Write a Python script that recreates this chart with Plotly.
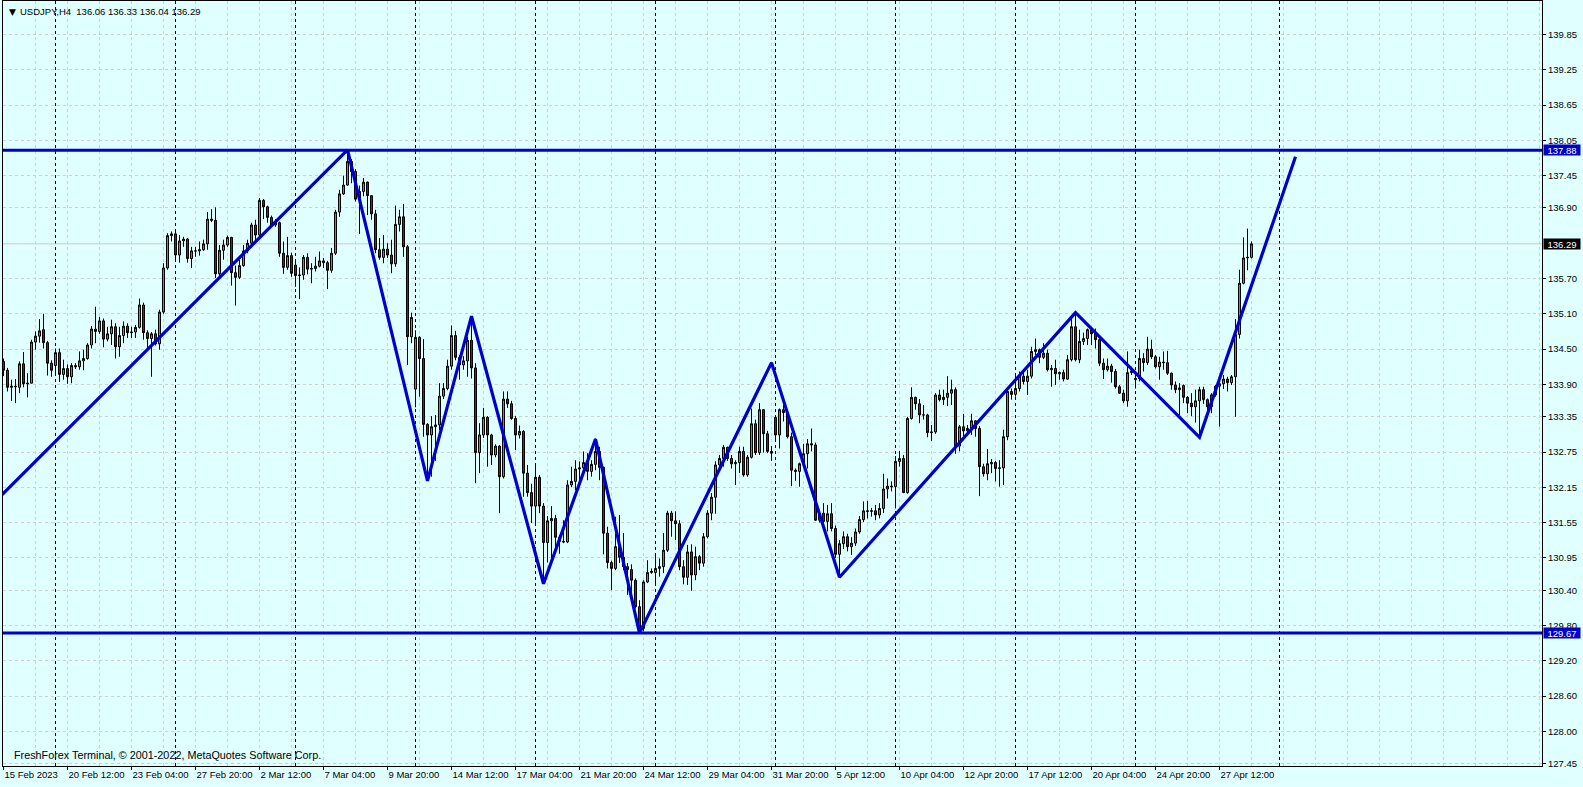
import plotly.graph_objects as go

# ---------------- data ----------------
bar_index = list(range(1, 314))

open_ = [
134.29,134.14,133.85,133.87,133.85,134.25,133.91,133.92,134.62,134.72,
134.83,134.61,134.26,134.22,134.44,134.07,134.17,134.03,134.22,134.20,
134.30,134.34,134.57,134.84,134.80,134.98,134.67,134.76,134.88,134.54,
134.73,134.89,134.78,134.79,134.87,135.25,134.78,134.68,134.76,134.59,
135.13,135.88,136.43,136.46,136.10,136.34,136.37,136.04,136.17,136.17,
136.19,136.29,136.71,136.69,135.78,136.18,136.27,136.40,135.80,135.72,
135.92,136.17,136.30,136.61,136.44,137.03,136.92,136.74,136.61,136.65,
136.13,135.89,136.09,135.93,135.75,135.76,136.06,135.86,135.87,135.91,
136.00,135.97,135.84,136.13,136.83,137.14,137.29,137.69,137.52,137.05,
137.18,137.34,137.11,136.80,136.19,136.06,136.20,136.10,135.95,136.62,
136.75,136.24,134.71,133.82,134.70,134.34,133.22,133.04,133.18,133.21,
133.70,133.83,134.21,134.73,134.36,134.23,134.30,134.65,134.18,132.74,
133.04,133.34,133.04,132.70,132.85,132.33,133.65,133.57,133.32,133.04,
133.10,132.39,132.06,131.83,132.32,131.83,131.21,131.58,131.62,131.30,
131.23,131.22,132.19,132.25,132.46,132.48,132.57,132.42,132.54,132.76,
132.49,131.37,130.87,130.77,131.14,130.96,130.80,130.75,130.57,130.12,
129.75,130.54,130.70,130.70,130.77,130.80,131.08,131.71,131.58,131.53,
130.80,130.62,131.05,130.66,130.97,130.86,131.31,131.71,131.98,132.53,
132.64,132.83,132.64,132.55,132.57,132.76,132.36,132.66,133.23,132.74,
133.47,133.06,132.76,133.34,133.04,133.47,133.42,133.01,132.44,132.42,
132.55,132.72,132.89,132.87,131.59,131.71,131.57,131.70,131.45,131.01,
131.19,131.31,131.14,131.20,131.39,131.60,131.75,131.74,131.75,131.68,
131.79,132.12,132.17,132.16,132.59,132.64,132.06,133.32,133.68,133.57,
133.38,133.38,133.08,133.09,133.72,133.64,133.68,133.75,133.81,132.85,
133.18,133.11,133.15,133.28,133.15,132.50,132.38,132.55,132.57,132.47,
132.48,133.01,133.78,133.73,133.83,134.04,133.95,134.04,134.46,134.49,
134.36,134.43,134.15,134.17,134.08,134.10,133.99,134.32,134.88,134.32,
134.63,134.68,134.83,134.76,134.66,134.26,134.15,134.21,134.12,133.86,
133.75,133.62,134.10,133.98,134.00,134.34,134.27,134.50,134.37,134.20,
134.28,134.27,134.09,133.89,133.81,133.88,133.68,133.58,133.52,133.62,
133.81,133.64,133.52,133.72,133.87,133.91,133.99,133.93,134.03,134.75,
135.62,136.05,136.06]

high = [
134.34,134.18,133.98,133.99,134.29,134.45,134.09,134.66,134.80,135.01,
135.10,134.64,134.31,134.51,134.51,134.32,134.24,134.26,134.26,134.46,
134.49,134.60,134.89,135.22,135.05,135.02,134.88,135.00,134.94,134.88,
134.97,134.94,134.88,134.91,135.36,135.29,134.82,134.79,134.83,135.17,
135.96,136.47,136.50,136.53,136.44,136.41,136.39,136.24,136.24,136.33,
136.36,136.83,136.88,136.91,136.27,136.36,136.43,136.41,135.92,136.02,
136.27,136.36,136.65,136.70,137.07,137.05,136.94,136.77,136.71,136.67,
136.33,136.41,136.14,135.99,135.89,136.10,136.13,135.96,136.07,136.16,
136.05,136.00,136.22,136.87,137.21,137.45,137.89,137.73,137.56,137.28,
137.41,137.35,137.12,136.87,136.39,136.44,136.30,136.36,136.94,136.87,
136.97,136.27,135.12,134.82,134.72,134.67,133.24,133.36,133.38,133.92,
133.92,134.32,134.90,134.81,134.40,134.38,134.71,135.06,134.26,133.24,
133.50,133.36,133.06,132.88,132.87,133.78,133.78,133.62,133.36,133.20,
133.12,132.53,132.21,132.53,132.36,131.88,131.66,131.83,131.68,131.34,
131.59,132.27,132.50,132.61,132.59,132.76,132.73,132.61,132.98,132.84,
132.50,131.48,130.90,131.65,131.68,131.37,130.86,130.84,130.60,130.23,
130.57,130.91,130.77,131.03,130.94,131.37,131.75,131.75,131.74,131.59,
130.91,131.17,131.18,131.14,131.00,131.37,131.76,132.05,132.59,132.70,
132.87,132.84,132.70,132.61,132.84,132.84,132.70,133.49,133.30,133.58,
133.48,133.11,132.85,133.38,133.49,133.55,133.45,133.08,132.47,132.57,
132.89,132.97,133.15,132.91,131.75,131.88,131.85,131.88,131.50,131.25,
131.40,131.36,131.30,131.45,131.66,131.91,131.92,131.80,131.85,131.88,
132.38,132.30,132.25,132.68,132.77,132.70,133.35,133.85,133.69,133.65,
133.55,133.40,133.21,133.75,133.81,133.81,134.04,133.98,133.85,133.21,
133.40,133.21,133.40,133.29,133.19,132.55,132.80,132.63,132.60,132.61,
133.13,133.85,133.83,134.06,134.12,134.10,134.15,134.54,134.68,134.51,
134.60,134.49,134.23,134.32,134.12,134.15,134.40,135.02,135.11,134.83,
134.78,134.85,134.87,134.85,134.71,134.34,134.34,134.25,134.16,133.89,
133.81,134.46,134.20,134.12,134.49,134.43,134.71,134.66,134.40,134.37,
134.46,134.47,134.10,133.95,133.92,133.90,133.70,133.75,133.81,133.86,
133.86,133.66,133.75,133.89,134.03,134.06,134.03,134.06,135.01,135.85,
136.40,136.55,136.33]

low = [
134.04,133.78,133.62,133.58,133.75,133.85,133.68,133.92,134.49,134.61,
134.51,134.05,134.03,134.06,133.94,133.98,133.91,133.92,134.16,134.15,
134.14,134.32,134.51,134.60,134.76,134.53,134.63,134.57,134.34,134.37,
134.60,134.69,134.69,134.69,134.85,134.66,134.51,134.03,134.56,134.49,
135.10,135.85,136.33,135.99,135.97,136.24,135.97,135.88,136.07,136.09,
136.17,136.19,136.66,135.71,135.73,136.02,136.24,135.58,135.24,135.69,
135.90,136.13,136.22,136.30,136.41,136.71,136.65,136.58,136.58,136.07,
135.78,135.85,135.73,135.56,135.35,135.68,135.77,135.62,135.82,135.89,
135.88,135.52,135.80,136.10,136.75,137.12,137.28,137.32,137.01,136.46,
137.10,136.78,136.70,136.13,136.02,135.96,136.05,135.79,135.90,136.50,
136.07,134.23,134.60,133.51,133.69,133.01,132.27,132.33,132.60,133.12,
133.65,133.80,134.15,134.31,133.98,134.15,134.03,134.00,132.22,132.39,
132.99,132.50,132.53,132.66,131.71,132.30,133.50,133.30,132.78,132.98,
131.99,131.99,131.54,131.51,131.71,130.52,130.87,130.94,131.03,131.02,
131.20,131.20,132.15,132.10,132.27,132.39,132.27,132.33,132.44,132.27,
131.01,130.77,130.40,130.74,130.86,130.74,130.32,130.29,130.09,129.67,
129.70,130.52,130.68,130.52,130.63,130.69,131.05,131.31,131.25,130.74,
130.50,130.49,130.39,130.57,130.74,130.80,131.28,131.59,131.70,132.44,
132.50,132.60,132.47,132.19,132.39,132.33,132.33,132.64,132.70,132.70,
132.74,132.73,132.60,132.93,132.81,133.27,132.98,132.17,132.26,132.16,
132.49,132.47,132.76,131.58,131.55,131.48,131.40,131.40,130.95,130.61,
131.10,131.06,131.00,131.15,131.36,131.56,131.62,131.65,131.59,131.62,
131.71,131.96,132.08,131.79,132.50,132.05,132.04,133.30,133.47,133.24,
133.30,133.00,132.94,133.06,133.61,133.55,133.53,133.55,132.72,132.76,
133.01,133.04,133.04,133.01,132.00,132.33,132.27,132.39,132.25,132.16,
132.19,132.95,133.64,133.69,133.78,133.90,133.72,134.00,134.40,134.26,
134.33,134.12,133.86,133.89,133.98,133.95,133.98,134.29,134.29,134.26,
134.57,134.57,134.57,134.51,134.21,133.99,134.12,133.93,133.83,133.74,
133.58,133.52,134.06,133.83,133.95,134.12,134.23,134.33,134.17,133.98,
134.15,134.06,133.81,133.75,133.38,133.58,133.41,133.36,133.25,133.01,
133.57,133.44,133.41,133.69,133.18,133.82,133.78,133.89,133.35,134.68,
135.60,135.84,136.04]

close = [
134.14,133.85,133.87,133.86,134.25,133.91,133.92,134.62,134.72,134.81,
134.61,134.26,134.14,134.44,134.07,134.17,134.03,134.22,134.20,134.30,
134.34,134.57,134.84,134.80,134.98,134.67,134.76,134.88,134.54,134.73,
134.89,134.78,134.79,134.87,135.25,134.78,134.68,134.76,134.59,135.13,
135.88,136.43,136.46,136.10,136.34,136.37,136.04,136.17,136.17,136.19,
136.29,136.71,136.69,135.78,136.18,136.27,136.40,135.80,135.72,135.92,
136.17,136.30,136.61,136.44,137.03,136.92,136.74,136.61,136.65,136.13,
135.89,136.09,135.79,135.75,135.76,136.06,135.86,135.87,135.91,136.00,
135.97,135.84,136.13,136.83,137.14,137.29,137.69,137.52,137.05,137.18,
137.34,137.11,136.80,136.19,136.06,136.20,136.10,135.95,136.62,136.75,
136.24,134.71,135.04,134.70,134.34,133.22,133.04,133.18,133.21,133.70,
133.83,134.21,134.73,134.36,134.23,134.30,134.65,134.18,132.74,133.04,
133.34,133.04,132.70,132.85,132.33,133.65,133.57,133.32,133.04,133.10,
132.39,132.06,131.83,132.32,131.83,131.21,131.58,131.62,131.30,131.23,
131.22,132.19,132.25,132.46,132.48,132.57,132.42,132.54,132.76,132.49,
131.37,130.87,130.77,131.14,130.96,130.80,130.75,130.57,130.12,129.75,
130.54,130.70,130.72,130.77,130.80,131.08,131.71,131.58,131.53,130.80,
130.62,131.05,130.66,130.97,130.86,131.31,131.71,131.98,132.53,132.64,
132.83,132.64,132.55,132.57,132.76,132.36,132.66,133.23,132.74,133.47,
133.06,132.76,132.73,133.04,133.47,133.42,133.01,132.44,132.42,132.55,
132.72,132.89,132.87,131.59,131.71,131.57,131.70,131.45,131.01,131.19,
131.31,131.14,131.20,131.39,131.60,131.75,131.74,131.75,131.68,131.79,
132.12,132.17,132.16,132.59,132.64,132.06,133.32,133.68,133.57,133.38,
133.38,133.08,133.09,133.72,133.64,133.68,133.75,133.81,132.85,133.18,
133.11,133.15,133.28,133.15,132.50,132.38,132.55,132.57,132.47,132.48,
133.01,133.78,133.73,133.83,134.04,133.95,134.04,134.46,134.49,134.36,
134.43,134.15,134.17,134.08,134.10,133.99,134.32,134.88,134.32,134.63,
134.68,134.83,134.76,134.66,134.26,134.15,134.21,134.12,133.86,133.75,
133.62,134.10,134.13,134.00,134.34,134.27,134.50,134.37,134.20,134.28,
134.27,134.09,133.89,133.81,133.84,133.68,133.58,133.52,133.62,133.81,
133.64,133.52,133.72,133.87,133.91,133.99,133.93,134.03,134.75,135.62,
136.05,136.06,136.29]

# zigzag indicator vertices (bar index, price)
zigzag_bars = [0, 87, 107, 118, 136, 149, 160, 193, 210, 269, 300, 324]
zigzag_prices = [131.98, 137.89, 132.26, 135.06, 130.51, 132.97, 129.67,
                 134.27, 130.62, 135.12, 133.00, 137.77]

resistance_level = 137.88
support_level = 129.67
last_price = 136.29

price_ticks = [139.85, 139.25, 138.65, 138.05, 137.45, 136.90, 135.70, 135.10,
               134.50, 133.90, 133.35, 132.75, 132.15, 131.55, 130.95, 130.40,
               129.80, 129.20, 128.60, 128.00, 127.45]

date_tick_bars = [1, 17, 33, 49, 65, 81, 97, 113, 129, 145, 161, 177, 193,
                  209, 225, 241, 257, 273, 289, 305]
date_tick_labels = ["15 Feb 2023", "20 Feb 12:00", "23 Feb 04:00", "27 Feb 20:00",
                    "2 Mar 12:00", "7 Mar 04:00", "9 Mar 20:00", "14 Mar 12:00",
                    "17 Mar 04:00", "21 Mar 20:00", "24 Mar 12:00", "29 Mar 04:00",
                    "31 Mar 20:00", "5 Apr 12:00", "10 Apr 04:00", "12 Apr 20:00",
                    "17 Apr 12:00", "20 Apr 04:00", "24 Apr 20:00", "27 Apr 12:00"]

# weekly period separators (bar index of Monday 00:00)
separator_bars = [14, 44, 74, 104, 134, 164, 194, 224, 254, 284, 320]

title_text = "USDJPY,H4\u00a0\u00a0136.06 136.33 136.04 136.29"
footer_text = "FreshForex Terminal, © 2001-2022, MetaQuotes Software Corp."

# ---------------- styles ----------------
BG = "#E0FFFF"
GRID = "#D4CECE"
BLUE = "#0000CD"
FONT = "Liberation Sans, Arial, sans-serif"

fig = go.Figure()

fig.add_trace(go.Candlestick(
    x=bar_index, open=open_, high=high, low=low, close=close,
    increasing=dict(line=dict(color="black", width=1), fillcolor="#3EBE3E"),
    decreasing=dict(line=dict(color="black", width=1), fillcolor="#D40000"),
    whiskerwidth=0, showlegend=False, hoverinfo="skip",
))

fig.add_trace(go.Scatter(
    x=zigzag_bars, y=zigzag_prices, mode="lines",
    line=dict(color=BLUE, width=3.2), showlegend=False, hoverinfo="skip",
))

shapes = []
for b in separator_bars:
    shapes.append(dict(type="line", xref="x", yref="paper", x0=b, x1=b, y0=0, y1=1,
                       line=dict(color="black", width=1, dash="3px,3px"), layer="between"))
# bid line
shapes.append(dict(type="line", xref="paper", yref="y", x0=0, x1=1,
                   y0=last_price, y1=last_price,
                   line=dict(color="#D9C4C4", width=1), layer="between"))
for lvl in (resistance_level, support_level):
    shapes.append(dict(type="line", xref="paper", yref="y", x0=0, x1=1, y0=lvl, y1=lvl,
                       line=dict(color=BLUE, width=3), layer="above"))

annotations = [
    dict(xref="paper", yref="paper", x=0, y=1, xshift=4, yshift=-4,
         xanchor="left", yanchor="top", text="▼", showarrow=False,
         font=dict(family="DejaVu Sans", size=9, color="black")),
    dict(xref="paper", yref="paper", x=0, y=1, xshift=15, yshift=-3,
         xanchor="left", yanchor="top", text=title_text, showarrow=False,
         font=dict(family=FONT, size=9.5, color="black")),
    dict(xref="paper", yref="paper", x=0, y=0, xshift=9, yshift=3,
         xanchor="left", yanchor="bottom", text=footer_text, showarrow=False,
         font=dict(family=FONT, size=10.8, color="black")),
]
for lvl, col in ((resistance_level, BLUE), (support_level, BLUE), (last_price, "black")):
    annotations.append(dict(xref="paper", yref="y", x=1, y=lvl, xshift=1,
                            xanchor="left", yanchor="middle", text=f"{lvl:.2f}",
                            showarrow=False, bgcolor=col, width=36, height=10,
                            borderpad=0, align="center",
                            font=dict(family=FONT, size=9.5, color="white")))

fig.update_layout(
    width=1583, height=787,
    margin=dict(l=3, r=41, t=1, b=21, autoexpand=False),
    paper_bgcolor=BG, plot_bgcolor=BG,
    shapes=shapes, annotations=annotations,
    showlegend=False, hovermode=False,
    font=dict(family=FONT, size=9.5, color="black"),
    xaxis=dict(
        range=[0.875, 385.625], rangeslider=dict(visible=False),
        tickmode="array", tickvals=date_tick_bars, ticktext=date_tick_labels,
        tickangle=0, automargin=False,
        ticklabelposition="outside right", ticks="outside", ticklen=3,
        tickcolor="black", tickfont=dict(family=FONT, size=9.5, color="black"),
        showgrid=True, gridcolor=GRID, griddash="3px,3px", gridwidth=1,
        minor=dict(tick0=1, dtick=8, showgrid=True, gridcolor=GRID,
                   griddash="3px,3px", gridwidth=1, ticks=""),
        showline=True, linecolor="black", linewidth=1, mirror=True,
        zeroline=False, fixedrange=True,
    ),
    yaxis=dict(
        range=[127.41, 140.42], side="right", automargin=False,
        tickmode="array", tickvals=price_ticks,
        ticktext=[f"{v:.2f}" for v in price_ticks],
        ticks="outside", ticklen=3, tickcolor="black",
        tickfont=dict(family=FONT, size=9.5, color="black"),
        showgrid=True, gridcolor=GRID, griddash="3px,3px", gridwidth=1,
        showline=True, linecolor="black", linewidth=1, mirror=True,
        zeroline=False, fixedrange=True,
    ),
)

fig.write_html(
    "out.html",
    config={"displayModeBar": False},
    post_script="document.body.style.margin='0';document.body.style.overflow='hidden';"
                "document.body.style.background='#E0FFFF';",
)
